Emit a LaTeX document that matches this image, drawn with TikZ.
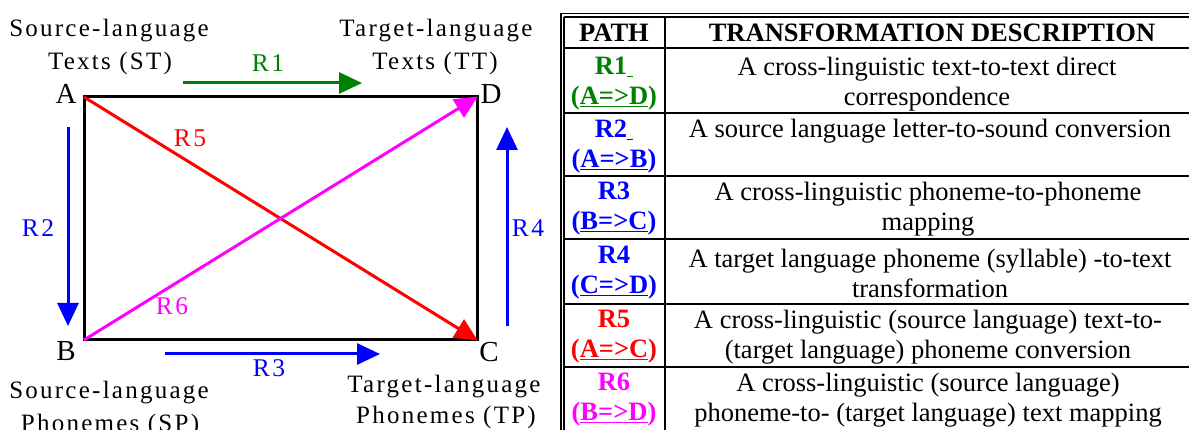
\documentclass[tikz,border=0pt]{standalone}
\usepackage{fontspec}
\setmainfont{Liberation Serif}
\newfontfamily\spaced[LetterSpace=9]{Liberation Serif}
\usetikzlibrary{arrows.meta}
\definecolor{pgreen}{RGB}{0,128,0}
\definecolor{pblue}{RGB}{0,0,255}
\definecolor{pred}{RGB}{255,0,0}
\definecolor{pmag}{RGB}{255,0,255}
\tikzset{
  lbl/.style={inner sep=0pt, anchor=base, font=\fontsize{25}{28}\selectfont\spaced},
  corner/.style={inner sep=0pt, anchor=base, font=\fontsize{29}{32}\selectfont},
  rlbl/.style={inner sep=0pt, anchor=base, font=\fontsize{25.5}{28}\selectfont\spaced},
  edge/.style={line width=3pt, black},
  path/.style={line width=3pt, -{Triangle[length=23pt,width=21pt]}},
  grid/.style={line width=1.5pt, black},
  hdr/.style={inner sep=0pt, anchor=base, font=\fontsize{26.5}{28}\selectfont\bfseries},
  pth/.style={inner sep=0pt, align=center, anchor=center, font=\fontsize{26.5}{30}\selectfont\bfseries},
  desc/.style={inner sep=0pt, align=center, anchor=center, font=\fontsize{26.5}{30}\selectfont},
}
\newcommand{\ulsp}{\underline{\hbox to 6pt{}}}
\begin{document}
\begin{tikzpicture}[x=1pt,y=-1pt]
\useasboundingbox (0,0) rectangle (1189,430);
% corners
\coordinate (A) at (84,97);
\coordinate (D) at (477,97);
\coordinate (B) at (84,340);
\coordinate (C) at (477,340);
\draw[edge] (A) -- (D) -- (C) -- (B) -- cycle;
% corner letters
\node[corner] (lA) at (66,104) {A};
\node[corner] (lD) at (491,104) {D};
\node[corner] (lB) at (66,360) {B};
\node[corner] (lC) at (489,361) {C};
% group labels
\node[lbl] (st1) at (109,37) {Source-language};
\node[lbl] (st2) at (110,70) {Texts (ST)};
\node[lbl] (tt1) at (436,37) {Target-language};
\node[lbl] (tt2) at (435,70) {Texts (TT)};
\node[lbl] (sp1) at (109,398) {Source-language};
\node[lbl] (sp2) at (110,431) {Phonemes (SP)};
\node[lbl] (tp1) at (444,392) {Target-language};
\node[lbl] (tp2) at (446,423) {Phonemes (TP)};
% path arrows
\coordinate (r1s) at (183,83); \coordinate (r1e) at (362,83);
\coordinate (r2s) at (68,127); \coordinate (r2e) at (68,326);
\coordinate (r3s) at (165,354); \coordinate (r3e) at (380,354);
\coordinate (r4s) at (507,326); \coordinate (r4e) at (507,127);
\draw[path, pgreen] (r1s) -- (r1e);
\draw[path, pblue] (r2s) -- (r2e);
\draw[path, pblue] (r3s) -- (r3e);
\draw[path, pblue] (r4s) -- (r4e);
\draw[path, pred, shorten >=-1pt] (A) -- (C);
\draw[path, pmag, shorten >=-1pt] (B) -- (D);
\node[rlbl, text=pgreen] (R1) at (268,72) {R1};
\node[rlbl, text=pblue] (R2) at (38,237) {R2};
\node[rlbl, text=pblue] (R3) at (269,377) {R3};
\node[rlbl, text=pblue] (R4) at (528,237) {R4};
\node[rlbl, text=pred] (R5) at (190,147) {R5};
\node[rlbl, text=pmag] (R6) at (172,315) {R6};
% table
\draw[grid] (561,13.5) -- (1189,13.5);
\draw[grid] (564,17) -- (1189,17);
\draw[grid] (561,13.5) -- (561,430);
\draw[grid] (564,17) -- (564,430);
\draw[grid] (665,17) -- (665,430);
\foreach \yy in {48,113,176,239,304,367} {\draw[grid] (564,\yy) -- (1189,\yy);}
\node[hdr] (hp) at (614,42) {PATH};
\node[hdr] (hd) at (932,42) {TRANSFORMATION DESCRIPTION};
\node[pth, text=pgreen] (p1) at (614,84) {R1\ulsp\\(\underline{A=>D})};
\node[desc] (d1) at (927,84) {A cross-linguistic text-to-text direct\\correspondence};
\node[pth, text=pblue] (p2) at (614,147) {R2\ulsp\\(\underline{A=>B})};
\node[desc] (d2) at (930,131) {A source language letter-to-sound conversion};
\node[pth, text=pblue] (p3) at (614,209) {R3\\(\underline{B=>C})};
\node[desc] (d3) at (928,209) {A cross-linguistic phoneme-to-phoneme\\mapping};
\node[pth, text=pblue] (p4) at (614,273) {R4\\(\underline{C=>D})};
\node[desc] (d4) at (930,273) {A target language phoneme (syllable) -to-text\\transformation};
\node[pth, text=pred] (p5) at (614,337) {R5\\(\underline{A=>C})};
\node[desc] (d5) at (928,337) {A cross-linguistic (source language) text-to-\\(target language) phoneme conversion};
\node[pth, text=pmag] (p6) at (614,400) {R6\\(\underline{B=>D})};
\node[desc] (d6) at (928,400) {A cross-linguistic (source language)\\phoneme-to- (target language) text mapping};
\end{tikzpicture}
\end{document}
